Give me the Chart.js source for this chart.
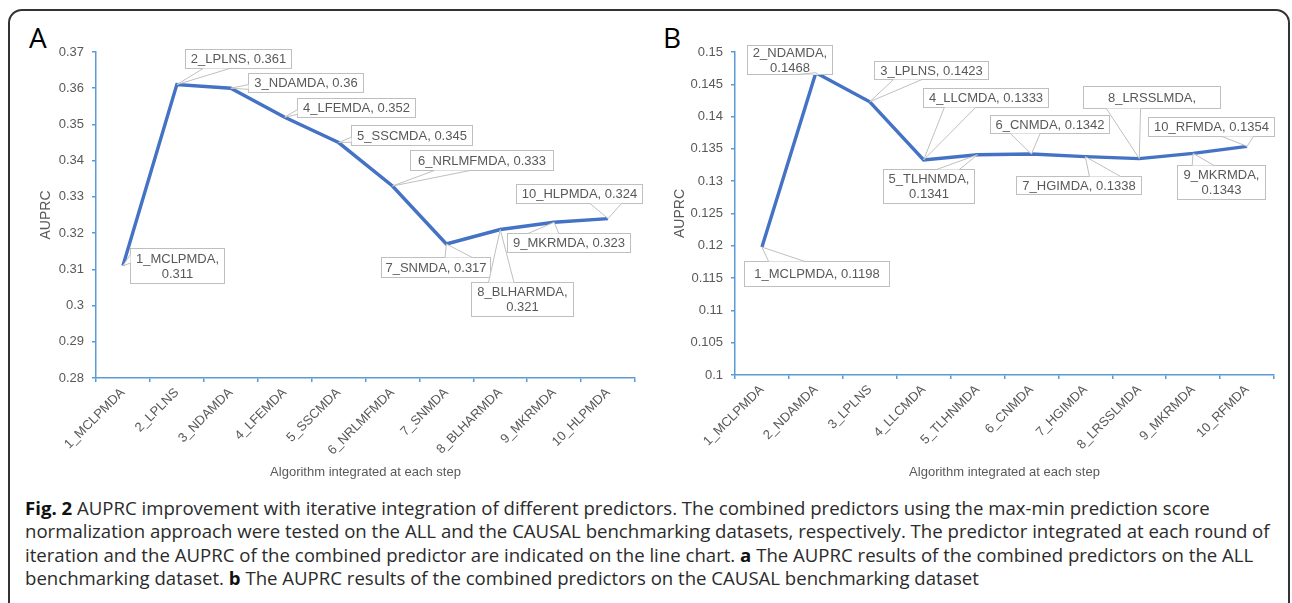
<!DOCTYPE html>
<html>
<head>
<meta charset="utf-8">
<script src="https://cdn.jsdelivr.net/npm/chart.js@4.4.1/dist/chart.umd.min.js"></script>
<style>
  body { margin: 0; background: #fff; width: 1292px; height: 603px; overflow: hidden; position: relative; }
  #frame { position: absolute; left: 8px; top: 9px; width: 1278px; height: 700px; border: 2px solid #333; border-radius: 14px; }
  .panel { position: absolute; font: 28px/28px "Open Sans", sans-serif; color: #000; top: 23px; }
  canvas { position: absolute; top: 0; }
  #caption { position: absolute; left: 25px; top: 496px; font: 18.6px/23.3px "Open Sans", sans-serif; color: #2b2b2b; white-space: nowrap; }
  #caption b { color: #111; }
</style>
</head>
<body>
<div id="frame"></div>
<div class="panel" style="left:29px">A</div>
<div class="panel" style="left:663px">B</div>
<canvas id="chartA" width="660" height="484" style="left:0"></canvas>
<canvas id="chartB" width="652" height="484" style="left:640px"></canvas>
<div id="caption">
<b>Fig. 2</b> AUPRC improvement with iterative integration of different predictors. The combined predictors using the max-min prediction score<br>
normalization approach were tested on the ALL and the CAUSAL benchmarking datasets, respectively. The predictor integrated at each round of<br>
iteration and the AUPRC of the combined predictor are indicated on the line chart. <b>a</b> The AUPRC results of the combined predictors on the ALL<br>
benchmarking dataset. <b>b</b> The AUPRC results of the combined predictors on the CAUSAL benchmarking dataset
</div>
<script>
// data //
const stepsA = ['1_MCLPMDA', '2_LPLNS', '3_NDAMDA', '4_LFEMDA', '5_SSCMDA', '6_NRLMFMDA', '7_SNMDA', '8_BLHARMDA', '9_MKRMDA', '10_HLPMDA'];
const auprcA = [0.311, 0.361, 0.36, 0.352, 0.345, 0.333, 0.317, 0.321, 0.323, 0.324];
const yRangeA = [0.28, 0.37, 0.01];

const stepsB = ['1_MCLPMDA', '2_NDAMDA', '3_LPLNS', '4_LLCMDA', '5_TLHNMDA', '6_CNMDA', '7_HGIMDA', '8_LRSSLMDA', '9_MKRMDA', '10_RFMDA'];
const auprcB = [0.1198, 0.1468, 0.1423, 0.1333, 0.1341, 0.1342, 0.1338, 0.1335, 0.1343, 0.1354];
const yRangeB = [0.1, 0.15, 0.005];

const yTitle = 'AUPRC';
const xTitle = 'Algorithm integrated at each step';

// callout boxes: offset from the point, size, and how the text is split (2 = two lines, 0 = name only)
const calloutsA = [
    [7, -18, 94, 35, 2], [8, -36, 106, 19, 1], [17, -15, 115, 19, 1], [12, -19, 118, 19, 1], [12, -18, 121, 20, 1],
    [18, -36, 143, 20, 1], [-65, 13, 109, 20, 1], [-29, 53, 102, 34, 2], [-47, 11, 123, 19, 1], [-92, -35, 126, 19, 1]
];
const calloutsB = [
    [-18, 14, 145, 25, 1], [-69, -28, 85, 29, 2], [4, -41, 114, 18, 1], [-1, -72, 125, 19, 1], [-95, 14, 91, 34, 2],
    [-41, -39, 119, 18, 1], [-69, 19, 125, 18, 1], [-56, -73, 137, 22, 0], [-16, 12, 88, 34, 2], [-99, -29, 126, 19, 1]
];

const axisColor = '#5B9BD5';
const textColor = '#595959';
const lineColor = '#4472C4';
const boxColor = '#BFBFBF';

Chart.defaults.font.family = '"Liberation Sans", Arial, sans-serif';
Chart.defaults.color = textColor;

// excel style rectangular callout with a wedge pointing at the point
const calloutPlugin = {
    id: 'callouts',
    afterDatasetsDraw(chart, args, opts) {
        const ctx = chart.ctx;
        const meta = chart.getDatasetMeta(0);
        const labels = chart.data.labels;
        const values = chart.data.datasets[0].data;
        ctx.save();
        ctx.font = '13px "Liberation Sans", Arial, sans-serif';
        ctx.textAlign = 'center';
        ctx.textBaseline = 'middle';
        ctx.lineWidth = 1;
        meta.data.forEach((pt, i) => {
            const [dx, dy, w, h, mode] = opts.boxes[i];
            const left = Math.round(pt.x + dx) + 0.5, top = Math.round(pt.y + dy) + 0.5;
            const cx = left + w / 2, cy = top + h / 2;
            const ddx = pt.x - cx, ddy = pt.y - cy;
            const dz = Math.abs(ddy) - Math.abs(ddx * h / w);
            let a, b;
            if (dz > 0) {
                const x1 = left + w * (ddx > 0 ? 7 : 2) / 12, x2 = left + w * (ddx > 0 ? 10 : 5) / 12;
                const ey = ddy > 0 ? top + h : top;
                a = [x1, ey]; b = [x2, ey];
            } else {
                const y1 = top + h * (ddy > 0 ? 7 : 2) / 12, y2 = top + h * (ddy > 0 ? 10 : 5) / 12;
                const ex = ddx > 0 ? left + w : left;
                a = [ex, y1]; b = [ex, y2];
            }
            ctx.fillStyle = '#fff';
            ctx.strokeStyle = boxColor;
            ctx.fillRect(left, top, w, h);
            ctx.strokeRect(left, top, w, h);
            ctx.beginPath();
            ctx.moveTo(a[0], a[1]);
            ctx.lineTo(pt.x, pt.y);
            ctx.lineTo(b[0], b[1]);
            ctx.closePath();
            ctx.fill();
            ctx.beginPath();
            ctx.moveTo(a[0], a[1]);
            ctx.lineTo(pt.x, pt.y);
            ctx.lineTo(b[0], b[1]);
            ctx.stroke();

            let lines;
            if (mode === 2) lines = [labels[i] + ',', String(values[i])];
            else if (mode === 0) lines = [labels[i] + ','];
            else lines = [labels[i] + ', ' + values[i]];
            ctx.fillStyle = textColor;
            const lh = 15;
            lines.forEach((t, k) => {
                ctx.fillText(t, cx, cy + (k - (lines.length - 1) / 2) * lh + 0.5);
            });
        });
        ctx.restore();
    }
};

function makeChart(id, steps, values, yRange, boxes, pad, yWidth, xHeight) {
    return new Chart(document.querySelector(id).getContext('2d'), {
        type: 'line',
        data: {
            labels: steps,
            datasets: [{
                data: values,
                borderColor: lineColor,
                borderWidth: 3.4,
                pointRadius: 0,
                tension: 0,
                fill: false
            }]
        },
        options: {
            responsive: false,
            animation: false,
            devicePixelRatio: 1,
            layout: { padding: pad },
            plugins: {
                legend: { display: false },
                tooltip: { enabled: false },
                callouts: { boxes: boxes }
            },
            scales: {
                x: {
                    offset: true,
                    grid: { offset: true, drawOnChartArea: false, color: axisColor, tickLength: 4, lineWidth: 1.5 },
                    border: { color: axisColor, width: 1.5 },
                    ticks: { autoSkip: false, minRotation: 45, maxRotation: 45, padding: 3, font: { size: 13 }, color: textColor },
                    title: { display: true, text: xTitle, font: { size: 13 }, color: textColor, padding: { top: 0, bottom: 4 } },
                    afterFit: (s) => { s.height = xHeight; }
                },
                y: {
                    min: yRange[0],
                    max: yRange[1],
                    grid: { drawOnChartArea: false, color: axisColor, tickLength: 4, lineWidth: 1.5 },
                    border: { color: axisColor, width: 1.5 },
                    ticks: {
                        stepSize: yRange[2],
                        padding: 8,
                        font: { size: 13 },
                        color: textColor,
                        callback: (v) => String(parseFloat(Number(v).toFixed(4)))
                    },
                    title: { display: true, text: yTitle, font: { size: 14 }, color: textColor, padding: { top: 0, bottom: 0 } },
                    afterFit: (s) => { s.width = yWidth; }
                }
            }
        },
        plugins: [calloutPlugin]
    });
}

makeChart('#chartA', stepsA, auprcA, yRangeA, calloutsA, { left: 38, top: 52, right: 25, bottom: 0 }, 58, 106);
makeChart('#chartB', stepsB, auprcB, yRangeB, calloutsB, { left: 32, top: 52, right: 18, bottom: 0 }, 63, 109);
</script>
</body>
</html>
